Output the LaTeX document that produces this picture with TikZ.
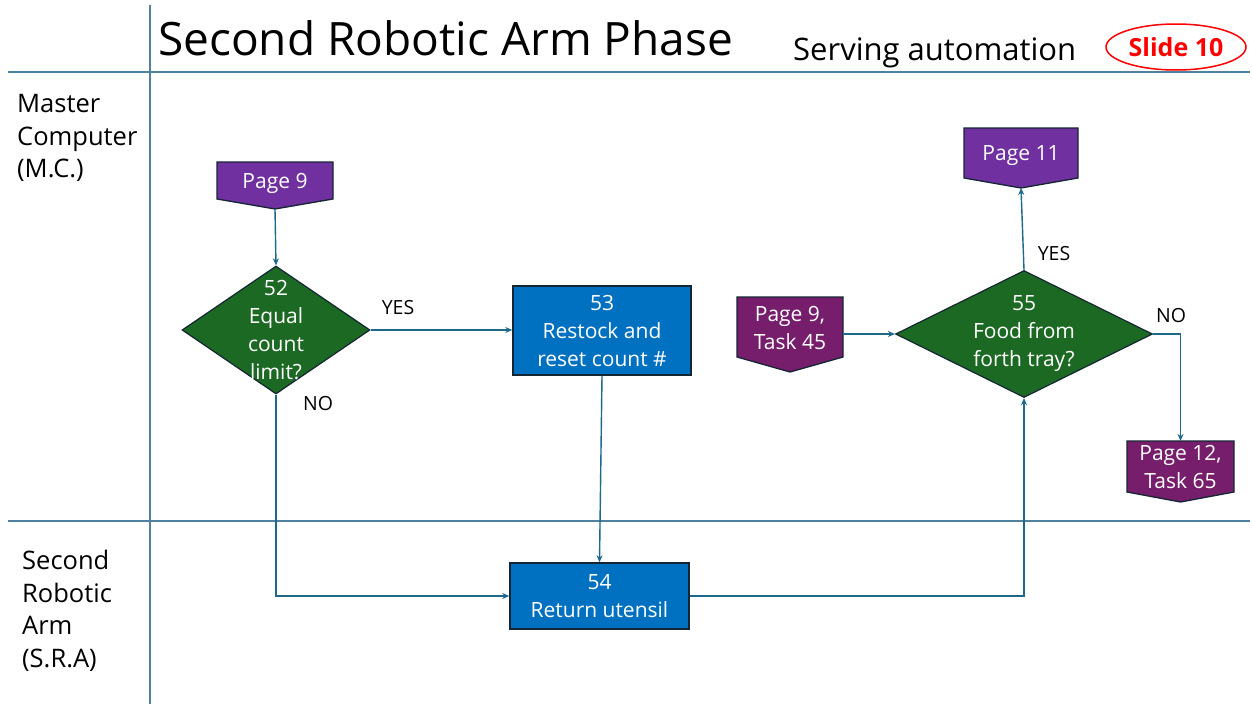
\documentclass[tikz,border=0pt]{standalone}
\usepackage{fontspec}
\setmainfont{Open Sans}
\usetikzlibrary{shapes.geometric,arrows.meta}
\definecolor{purpA}{RGB}{112,48,160}
\definecolor{purpB}{RGB}{118,30,108}
\definecolor{greenD}{RGB}{28,105,36}
\definecolor{blueB}{RGB}{0,112,192}
\definecolor{connc}{RGB}{30,104,140}
\definecolor{lanec}{RGB}{80,130,160}
\definecolor{bordc}{RGB}{20,38,52}
\tikzset{
  txt/.style={text=white,font=\fontsize{21}{28}\selectfont,align=center,inner sep=0pt},
  dia/.style={diamond,fill=greenD,draw=bordc,line width=1.2pt,inner sep=0pt},
  boxB/.style={rectangle,fill=blueB,draw=bordc,line width=1.5pt,txt},
  conn/.style={draw=connc,line width=1.4pt,-{Stealth[length=7pt,width=6pt]}},
  lane/.style={draw=lanec,line width=1.1pt},
  lbl/.style={font=\fontsize{19.5}{22}\selectfont,text=black,inner sep=0pt},
  lanelbl/.style={font=\fontsize{25.5}{32.5}\selectfont,align=left,inner sep=0pt,anchor=west}
}
% name, cx, top, width, body height, tip depth, colour, text (text shifted down by #9)
\newcommand{\offpg}[9]{%
  \filldraw[fill=#7,draw=bordc,line width=1.3pt] (#2-#4/2,#3) -- (#2+#4/2,#3) -- (#2+#4/2,#3+#5) -- (#2,#3+#5+#6) -- (#2-#4/2,#3+#5) -- cycle;
  \node[txt,minimum width=#4pt,minimum height=#5pt] (#1) at (#2,#3+#5/2) {};
  \node[txt] (#1-t) at (#2,#3+#5/2+#9) {#8};
  \coordinate (#1-tip) at (#2,#3+#5+#6);
  \coordinate (#1-top) at (#2,#3);
}
\begin{document}
\begin{tikzpicture}[x=1pt,y=-1pt]
\useasboundingbox[fill=white] (0,0) rectangle (1252,704);
% swimlane lines
\draw[lane] (150,5) -- (150,704);
\draw[lane] (8,72) -- (1250,72);
\draw[lane] (8,521) -- (1250,521);
% header
\node[anchor=base west,inner sep=0pt,font=\fontsize{46}{50}\selectfont] (title) at (158,55) {Second Robotic Arm Phase};
\node[anchor=base west,inner sep=0pt,font=\fontsize{31}{36}\selectfont] (sub) at (793,60) {Serving automation};
\node[ellipse,draw=red,line width=1.5pt,minimum width=140pt,minimum height=46pt,inner sep=0pt,text=red,font=\bfseries\fontsize{25}{28}\selectfont] (slide) at (1176,47) {Slide 10};
% lane labels
\node[lanelbl] (mc) at (17,138) {Master\\Computer\\(M.C.)};
\node[lanelbl] (sra) at (22,611) {Second\\Robotic\\Arm\\(S.R.A)};
% off-page connectors
\offpg{p9}{275}{162}{116}{37}{10}{purpA}{Page 9}{3}
\offpg{p11}{1021}{128}{114}{50}{10}{purpA}{Page 11}{3}
\offpg{p945}{790}{297}{106}{60}{15}{purpB}{Page 9,\\Task 45}{1}
\offpg{p12}{1180.5}{441}{107}{51}{10}{purpB}{Page 12,\\Task 65}{0}
% decisions
\node[dia,minimum width=188pt,minimum height=128pt,label={[txt]center:{52\\Equal\\count\\limit?}}] (d52) at (276,330) {};
\node[dia,minimum width=257pt,minimum height=127pt,label={[txt]center:{55\\Food from\\forth tray?}}] (d55) at (1024,334) {};
% process boxes
\node[boxB,minimum width=178pt,minimum height=89pt] (b53) at (602,330.5) {53\\Restock and\\reset count \#};
\node[boxB,minimum width=179pt,minimum height=66pt] (b54) at (599.5,596) {54\\Return utensil};
% connectors
\draw[conn] (p9-tip) -- (d52.north);
\draw[conn] (d52.east) -- (d52.east -| b53.west);
\draw[conn] (d52.south) |- (b54.west);
\draw[conn] (b53.south) -- (b54.north);
\draw[conn] (b54.east) -| (d55.south);
\draw[conn] (p945.east |- d55.west) -- (d55.west);
\draw[conn] (d55.north) -- (p11-tip);
\draw[conn] (d55.east) -| (p12-top);
% branch labels
\node[lbl] (yes1) at (398,308) {YES};
\node[lbl] (no1) at (318,404) {NO};
\node[lbl] (yes2) at (1054,254) {YES};
\node[lbl] (no2) at (1171,316) {NO};
\end{tikzpicture}
\end{document}
